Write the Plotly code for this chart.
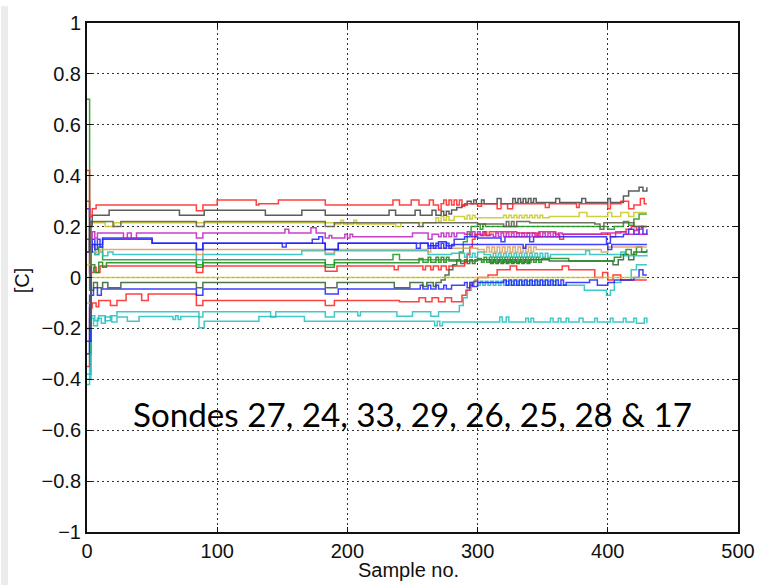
import plotly.graph_objects as go

# ---------------- data: step breakpoints (sample no., value [C]) ----------------
red_top = [(0,0.42),(2,0.24),(4,0.27),(7,0.285),(84,0.262),(89,0.285),(100,0.305),(130,0.285),(132,0.29),
           (147,0.305),(183,0.285),(235,0.305),(240,0.285),(249,0.305),(255,0.285),(263,0.305),(266,0.285),
           (270,0.265),(272,0.29),(274,0.305),(276,0.285),(278,0.305),(280,0.285),(282,0.305),(284,0.285),
           (286,0.305),(288,0.28),(290,0.29),(300,0.28),(303,0.29),(315,0.27),(318,0.29),(323,0.27),(327,0.29),
           (352,0.275),(355,0.29),(376,0.275),(378,0.29),(400,0.27),(402,0.29),(410,0.3),(416,0.27),
           (420,0.285),(425,0.31),(428,0.29),(430,0.29)]

black_top = [(0,0.1),(2,0.2),(4,0.245),(17,0.264),(71,0.245),(90,0.264),(137,0.245),(165,0.264),(183,0.245),
             (232,0.264),(237,0.245),(252,0.264),(256,0.245),(265,0.264),(268,0.245),(272,0.26),(274,0.245),
             (276,0.26),(278,0.25),(280,0.265),(284,0.275),(288,0.285),(292,0.3),(295,0.29),(297,0.305),
             (299,0.29),(303,0.305),(305,0.29),(315,0.31),(318,0.29),(327,0.31),(329,0.295),(331,0.31),
             (333,0.295),(335,0.31),(337,0.295),(339,0.31),(341,0.295),(343,0.31),(345,0.295),(360,0.31),
             (363,0.295),(380,0.31),(383,0.295),(400,0.31),(402,0.295),(412,0.32),(416,0.34),(424,0.355),
             (427,0.34),(430,0.355)]

olive_mid = [(0,-0.2),(3,0.22),(20,0.2),(26,0.22),(84,0.2),(90,0.22),(183,0.2),(190,0.215),(250,0.215),
             (255,0.2),(258,0.215),(300,0.21),(320,0.2),(322,0.22),(324,0.2),(326,0.22),(328,0.2),(330,0.22),
             (340,0.215),(390,0.21),(394,0.19),(397,0.215),(420,0.2),(430,0.2)]

yellow_hi = [(0,0.05),(3,0.215),(14,0.2),(21,0.215),(190,0.21),(195,0.225),(197,0.21),(205,0.225),(207,0.21),
             (237,0.2),(241,0.215),(268,0.235),(270,0.22),(272,0.24),(274,0.225),(276,0.24),(278,0.225),
             (282,0.24),(290,0.23),(292,0.245),(294,0.23),(296,0.245),(298,0.235),(320,0.245),(322,0.235),
             (324,0.245),(326,0.235),(328,0.245),(330,0.235),(332,0.245),(334,0.235),(336,0.245),(338,0.235),
             (340,0.245),(342,0.235),(344,0.245),(346,0.235),(348,0.245),(350,0.235),(355,0.24),(378,0.255),
             (384,0.24),(400,0.255),(403,0.24),(410,0.255),(416,0.24),(420,0.255),(430,0.255)]

magenta_mid = [(0,0.1),(2,0.15),(4,0.18),(6,0.155),(8,0.175),(28,0.15),(31,0.175),(34,0.15),(38,0.175),
               (84,0.155),(89,0.175),(152,0.19),(155,0.175),(172,0.195),(176,0.175),(183,0.155),(186,0.165),
               (188,0.155),(198,0.17),(200,0.155),(202,0.17),(204,0.16),(230,0.16),(250,0.175),(262,0.15),
               (265,0.17),(270,0.16),(272,0.175),(274,0.16),(276,0.175),(278,0.16),(280,0.175),(282,0.16),
               (284,0.175),(290,0.17),(292,0.18),(294,0.165),(296,0.18),(298,0.165),(300,0.18),(302,0.165),
               (304,0.18),(306,0.165),(310,0.17),(312,0.16),(314,0.175),(316,0.16),(318,0.175),(320,0.16),
               (322,0.175),(324,0.16),(326,0.175),(328,0.16),(330,0.175),(332,0.16),(334,0.175),(336,0.16),
               (338,0.175),(340,0.16),(342,0.175),(344,0.16),(346,0.175),(348,0.16),(350,0.175),(352,0.16),
               (354,0.175),(356,0.16),(358,0.175),(360,0.16),(362,0.175),(365,0.17),(395,0.175),(410,0.18),
               (414,0.17),(420,0.185),(424,0.17),(430,0.175)]

blue_hi = [(0,0.27),(2,0.1),(4,0.15),(6,0.11),(8,0.15),(10,0.12),(12,0.155),(50,0.135),(84,0.11),(89,0.135),
           (150,0.12),(153,0.135),(173,0.15),(178,0.16),(181,0.135),(183,0.11),(193,0.135),(253,0.115),
           (256,0.135),(262,0.115),(264,0.135),(266,0.115),(268,0.135),(270,0.115),(272,0.135),(274,0.115),
           (276,0.135),(278,0.115),(280,0.13),(335,0.115),(337,0.13),(400,0.11),(403,0.13),(430,0.13)]

blue_late = [(0,-0.25),(3,0.13),(12,0.15),(50,0.135),(84,0.11),(89,0.135),(183,0.11),(193,0.135),(262,0.125),
             (270,0.14),(276,0.125),(282,0.15),(290,0.16),(300,0.155),(318,0.14),(321,0.16),(338,0.16),
             (340,0.14),(343,0.16),(380,0.16),(399,0.135),(402,0.16),(412,0.17),(416,0.19),(420,0.17),
             (424,0.2),(427,0.17),(430,0.19)]

tan_mid = [(0,0.0),(3,0.12),(6,0.1),(10,0.11),(84,0.09),(89,0.11),(183,0.095),(190,0.11),(255,0.11),
           (262,0.1),(264,0.115),(300,0.11),(305,0.1),(307,0.12),(309,0.1),(311,0.12),(313,0.1),(315,0.12),
           (317,0.1),(319,0.12),(321,0.1),(323,0.12),(325,0.1),(327,0.12),(329,0.1),(331,0.12),(333,0.1),
           (335,0.12),(337,0.1),(339,0.12),(341,0.1),(343,0.12),(345,0.11),(385,0.11),(395,0.1),(400,0.12),
           (430,0.12)]

cyan_mid = [(0,-0.38),(3,0.1),(6,0.09),(9,0.1),(12,0.085),(16,0.1),(20,0.09),(84,0.07),(89,0.09),(165,0.105),
            (183,0.09),(190,0.105),(262,0.09),(280,0.095),(290,0.08),(292,0.095),(294,0.08),(296,0.095),
            (298,0.08),(300,0.1),(305,0.09),(310,0.08),(312,0.095),(314,0.08),(316,0.095),(318,0.08),
            (320,0.095),(322,0.08),(324,0.095),(326,0.08),(328,0.095),(330,0.08),(332,0.095),(334,0.08),
            (336,0.095),(338,0.08),(340,0.095),(342,0.08),(344,0.095),(346,0.08),(348,0.095),(350,0.08),
            (352,0.095),(354,0.08),(356,0.09),(380,0.09),(383,0.105),(386,0.09),(410,0.1),(413,0.085),
            (430,0.09)]

green_rise = [(0,0.7),(2,0.1),(4,0.13),(6,0.09),(9,0.12),(12,0.07),(84,0.05),(89,0.07),(183,0.05),(190,0.07),
              (235,0.09),(240,0.07),(286,0.1),(289,0.14),(292,0.17),(295,0.2),(300,0.21),(302,0.19),
              (304,0.21),(306,0.2),(400,0.19),(405,0.2),(412,0.22),(416,0.205),(420,0.23),(424,0.25),
              (430,0.25)]

green_low = [(0,-0.3),(3,0.05),(6,0.02),(9,0.06),(12,0.04),(15,0.058),(84,0.04),(89,0.058),(183,0.04),
             (190,0.058),(255,0.075),(258,0.06),(262,0.08),(264,0.06),(268,0.08),(270,0.06),(272,0.08),
             (274,0.06),(276,0.08),(278,0.065),(300,0.075),(303,0.06),(305,0.08),(307,0.06),(309,0.08),
             (311,0.06),(313,0.08),(315,0.06),(317,0.08),(319,0.06),(321,0.08),(323,0.06),(325,0.08),
             (327,0.06),(329,0.08),(331,0.06),(333,0.08),(335,0.06),(337,0.08),(339,0.06),(341,0.08),
             (343,0.06),(345,0.08),(347,0.06),(349,0.075),(370,0.065),(405,0.08),(410,0.09),(414,0.11),
             (418,0.09),(422,0.12),(426,0.1),(430,0.11)]

red_rise = [(0,0.3),(2,0.02),(5,0.04),(7,0.02),(10,0.045),(84,0.02),(89,0.045),(183,0.025),(192,0.045),
            (236,0.03),(239,0.045),(258,0.03),(260,0.045),(264,0.03),(266,0.045),(270,0.03),(272,0.045),
            (276,0.03),(278,0.045),(290,0.06),(292,0.09),(294,0.12),(296,0.15),(298,0.17),(303,0.165),
            (305,0.18),(307,0.165),(309,0.18),(330,0.175),(345,0.16),(347,0.18),(360,0.17),(363,0.15),
            (366,0.17),(402,0.16),(406,0.18),(414,0.19),(418,0.2),(422,0.19),(426,0.2),(430,0.2)]

yellow_zero = [(0,-0.1),(3,0.0),(430,0.0)]

dark_low = [(0,0.15),(2,-0.05),(5,-0.02),(8,-0.04),(12,-0.02),(16,-0.04),(26,-0.02),(84,-0.04),(89,-0.02),
            (183,-0.04),(192,-0.02),(236,-0.04),(248,-0.02),(258,-0.035),(261,-0.02),(266,-0.035),
            (268,-0.02),(272,-0.01),(275,0.01),(278,0.03),(281,0.05),(284,0.07),(287,0.055),(290,0.07),
            (292,0.055),(294,0.07),(296,0.055),(298,0.07),(310,0.055),(312,0.07),(314,0.055),(316,0.07),
            (318,0.055),(320,0.07),(322,0.055),(324,0.07),(326,0.055),(328,0.07),(330,0.055),(332,0.07),
            (334,0.055),(336,0.07),(338,0.055),(340,0.07),(355,0.065),(404,0.05),(408,0.07),(412,0.09),
            (416,0.07),(420,0.1),(430,0.1)]

blue_low = [(0,-0.3),(2,-0.07),(5,-0.04),(8,-0.07),(11,-0.045),(84,-0.07),(89,-0.045),(183,-0.065),
            (193,-0.045),(256,-0.03),(258,-0.045),(262,-0.03),(264,-0.045),(268,-0.03),(270,-0.045),
            (274,-0.03),(276,-0.045),(280,-0.03),(290,-0.02),(292,-0.04),(294,-0.02),(296,-0.035),
            (300,-0.02),(320,-0.01),(322,-0.03),(324,-0.01),(326,-0.03),(328,-0.01),(330,-0.03),(332,-0.01),
            (334,-0.03),(336,-0.01),(338,-0.03),(340,-0.01),(342,-0.03),(344,-0.01),(346,-0.03),(348,-0.01),
            (350,-0.03),(352,-0.01),(354,-0.03),(356,-0.01),(358,-0.03),(360,-0.01),(362,-0.03),(364,-0.01),
            (366,-0.03),(368,-0.02),(380,-0.02),(386,-0.01),(392,-0.03),(400,-0.02),(405,-0.01),(420,0.0),
            (424,0.03),(427,0.01),(430,0.01)]

red_low = [(0,-0.35),(2,-0.12),(4,-0.1),(7,-0.115),(9,-0.09),(18,-0.11),(23,-0.09),(30,-0.065),(42,-0.09),
           (47,-0.065),(84,-0.11),(89,-0.09),(183,-0.11),(190,-0.09),(240,-0.095),(255,-0.08),(260,-0.095),
           (265,-0.08),(270,-0.095),(275,-0.08),(280,-0.095),(288,-0.07),(291,-0.05),(294,-0.03),
           (297,-0.015),(300,0.0),(308,0.01),(315,0.03),(325,0.045),(330,0.03),(360,0.03),(365,0.045),
           (370,0.03),(390,0.0),(396,0.02),(400,-0.01),(404,0.01),(410,-0.01),(430,-0.01)]

cyan_low = [(0,-0.4),(3,-0.15),(6,-0.17),(9,-0.15),(14,-0.17),(18,-0.15),(23,-0.135),(86,-0.155),(89,-0.135),
            (141,-0.155),(145,-0.135),(183,-0.155),(190,-0.135),(208,-0.15),(210,-0.135),(238,-0.152),
            (250,-0.135),(264,-0.152),(270,-0.135),(286,-0.11),(289,-0.08),(292,-0.05),(295,-0.02),
            (298,-0.01),(300,-0.03),(302,-0.015),(304,-0.03),(306,-0.015),(308,-0.03),(310,-0.015),
            (312,-0.03),(314,-0.015),(316,-0.03),(318,-0.015),(320,-0.03),(322,-0.015),(324,-0.03),
            (326,-0.015),(328,-0.03),(330,-0.015),(332,-0.03),(334,-0.015),(336,-0.03),(338,-0.015),
            (340,-0.03),(342,-0.015),(344,-0.03),(346,-0.015),(348,-0.03),(350,-0.015),(352,-0.03),
            (354,-0.015),(356,-0.03),(358,-0.015),(360,-0.03),(370,-0.03),(382,-0.05),(399,-0.07),
            (402,-0.05),(405,-0.02),(410,-0.01),(418,0.03),(422,0.05),(430,0.05)]

cyan_bottom = [(0,-0.42),(2,-0.16),(5,-0.19),(8,-0.16),(11,-0.18),(14,-0.155),(19,-0.175),(23,-0.155),
               (31,-0.172),(40,-0.153),(66,-0.165),(68,-0.15),(70,-0.165),(72,-0.153),(86,-0.197),
               (90,-0.172),(132,-0.153),(167,-0.172),(267,-0.19),(269,-0.172),(271,-0.19),(273,-0.175),
               (317,-0.155),(319,-0.175),(322,-0.155),(324,-0.175),(337,-0.16),(339,-0.175),(341,-0.16),
               (343,-0.175),(356,-0.16),(358,-0.175),(362,-0.16),(364,-0.175),(368,-0.16),(370,-0.175),
               (378,-0.16),(381,-0.175),(390,-0.16),(392,-0.175),(402,-0.16),(404,-0.175),(412,-0.16),
               (414,-0.175),(420,-0.16),(422,-0.18),(428,-0.16),(430,-0.18)]

series_data = [cyan_bottom, cyan_low, red_low, blue_low, dark_low, yellow_zero, red_rise, green_low,
               green_rise, cyan_mid, tan_mid, blue_late, blue_hi, magenta_mid, yellow_hi, olive_mid,
               black_top, red_top]
series_colors = ["#20c0c0", "#20c0c0", "#ff2020", "#2020ff", "#2f5f2f", "#c8c820", "#ff2020", "#1a8a1a",
                 "#1a9a1a", "#20c0c0", "#d9a060", "#2020ff", "#2020ff", "#c020c0", "#c8c820", "#5a5a48",
                 "#404040", "#ff2020"]

x_ticks = [0, 100, 200, 300, 400, 500]
y_ticks = [-1, -0.8, -0.6, -0.4, -0.2, 0, 0.2, 0.4, 0.6, 0.8, 1]
y_tick_labels = ["\u22121", "\u22120.8", "\u22120.6", "\u22120.4", "\u22120.2", "0", "0.2", "0.4", "0.6", "0.8", "1"]
x_title = "Sample no."
y_title = "[C]"
note_text = "Sondes 27, 24, 33, 29, 26, 25, 28 & 17"

# ---------------- figure ----------------
fig = go.Figure()
for pts, col in zip(series_data, series_colors):
    fig.add_trace(go.Scatter(
        x=[p[0] for p in pts], y=[p[1] for p in pts], mode="lines",
        line=dict(color=col, width=1.5, shape="hv"), opacity=0.85,
        showlegend=False, hoverinfo="skip"))

axis_font = dict(family="Liberation Sans, Arial, sans-serif", size=20, color="#111")
grid = dict(showgrid=True, gridcolor="#333", gridwidth=1, griddash="1.5px,3.5px",
            showline=True, linecolor="#111", linewidth=2, mirror="ticks",
            ticks="inside", ticklen=5, tickcolor="#111", tickwidth=1,
            zeroline=False, tickfont=axis_font)

fig.update_xaxes(range=[0, 500], tickvals=x_ticks, ticktext=[str(v) for v in x_ticks], **grid)
fig.update_yaxes(range=[-1, 1], tickvals=y_ticks, ticktext=y_tick_labels, **grid)

W, H = 767, 585
ml, mr, mt, mb = 87, 21, 12, 53
pw, ph = W - ml - mr, H - mt - mb

fig.update_layout(
    width=W, height=H, margin=dict(l=ml, r=mr, t=mt, b=mb),
    paper_bgcolor="white", plot_bgcolor="white",
    shapes=[dict(type="rect", xref="paper", yref="paper",
                 x0=-ml / pw, x1=(-ml + 7) / pw, y0=-mb / ph - 0.01, y1=1 + mt / ph + 0.01,
                 fillcolor="#ebebeb", line=dict(width=0), layer="below")],
    annotations=[
        dict(text=x_title, xref="paper", yref="paper", x=(412 - ml) / pw, y=-(571 - mt - ph) / ph,
             showarrow=False, font=axis_font, xanchor="center", yanchor="middle"),
        dict(text=y_title, xref="paper", yref="paper", x=(22 - ml) / pw, y=(mt + ph - 275) / ph,
             showarrow=False, font=axis_font, textangle=-90, xanchor="center", yanchor="middle"),
        dict(text=note_text, xref="paper", yref="paper", x=(417 - ml) / pw, y=(mt + ph - 411) / ph,
             showarrow=False, font=dict(family="Lato, Open Sans, sans-serif", size=33.2, color="#000"),
             xanchor="center", yanchor="middle"),
    ],
)

fig.write_html("out.html")
